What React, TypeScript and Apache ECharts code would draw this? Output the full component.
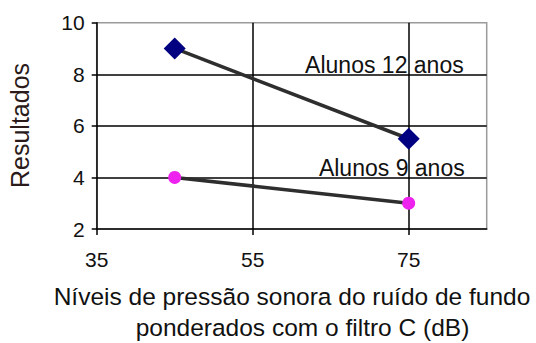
import React, { useEffect, useRef } from "react";
import * as echarts from "echarts";

// Background-noise level (dB, C-weighted) for each test condition
const noiseLevels = [45, 75];
// Results by age group
const results12 = [9, 5.5];
const results9 = [4, 3];
const seriesNames = ["Alunos 12 anos", "Alunos 9 anos"];
const yTitle = "Resultados";
const xTitleLines = [
  "Níveis de pressão sonora do ruído de fundo",
  "ponderados com o filtro C (dB)",
];

const FONT = "'Liberation Sans', Arial, sans-serif";

export default function App() {
  const ref = useRef<HTMLDivElement>(null);

  useEffect(() => {
    if (!ref.current) return;
    const chart = echarts.init(ref.current, null, { renderer: "svg" });

    const pairs = (ys: number[]) => noiseLevels.map((x, i) => [x, ys[i]]);

    chart.setOption({
      animation: false,
      backgroundColor: "#ffffff",
      grid: {
        left: 96.7,
        right: 49.3,
        top: 22.7,
        bottom: 114,
        show: true,
        borderColor: "#9a9a9a",
        borderWidth: 1.5,
        backgroundColor: "transparent",
      },
      xAxis: {
        type: "value",
        min: 35,
        max: 85,
        interval: 20,
        axisLine: { show: true, onZero: false, lineStyle: { color: "#000", width: 1.5 } },
        axisTick: { show: true, length: 6, lineStyle: { color: "#000", width: 1.5 } },
        axisLabel: {
          showMaxLabel: false,
          margin: 20,
          color: "#111",
          fontFamily: FONT,
          fontSize: 21,
        },
        splitLine: {
          show: true,
          showMinLine: false,
          showMaxLine: false,
          lineStyle: { color: "#000", width: 1.5 },
        },
      },
      yAxis: {
        type: "value",
        min: 2,
        max: 10,
        interval: 2,
        axisLine: { show: true, onZero: false, lineStyle: { color: "#000", width: 1.5 } },
        axisTick: { show: true, length: 5, lineStyle: { color: "#000", width: 1.5 } },
        axisLabel: {
          margin: 12,
          color: "#111",
          fontFamily: FONT,
          fontSize: 21,
        },
        splitLine: {
          show: true,
          showMinLine: false,
          showMaxLine: false,
          lineStyle: { color: "#000", width: 1.5 },
        },
      },
      series: [
        {
          name: seriesNames[0],
          type: "line",
          data: pairs(results12),
          symbol: "diamond",
          symbolSize: 22,
          itemStyle: { color: "#000080" },
          lineStyle: { color: "#2e2e2e", width: 3.5 },
          label: {
            show: true,
            formatter: (p: any) => (p.dataIndex === 1 ? seriesNames[0] : ""),
            position: "inside",
            align: "right",
            verticalAlign: "middle",
            offset: [55, -73.5],
            color: "#111",
            fontFamily: FONT,
            fontSize: 23,
          },
          z: 3,
        },
        {
          name: seriesNames[1],
          type: "line",
          data: pairs(results9),
          symbol: "circle",
          symbolSize: 13,
          itemStyle: { color: "#ee22ee" },
          lineStyle: { color: "#2e2e2e", width: 3.5 },
          label: {
            show: true,
            formatter: (p: any) => (p.dataIndex === 1 ? seriesNames[1] : ""),
            position: "inside",
            align: "right",
            verticalAlign: "middle",
            offset: [56, -35],
            color: "#111",
            fontFamily: FONT,
            fontSize: 23,
          },
          z: 3,
        },
      ],
      graphic: [
        {
          type: "text",
          x: 20,
          y: 125.5,
          rotation: Math.PI / 2,
          style: {
            text: yTitle,
            fill: "#2a1a1a",
            font: `25px ${FONT}`,
            align: "center",
            verticalAlign: "middle",
          },
        },
        {
          type: "text",
          x: 292,
          y: 296.5,
          style: {
            text: xTitleLines[0],
            fill: "#111",
            font: `24.5px ${FONT}`,
            align: "center",
            verticalAlign: "middle",
          },
        },
        {
          type: "text",
          x: 302.5,
          y: 327.5,
          style: {
            text: xTitleLines[1],
            fill: "#111",
            font: `24.5px ${FONT}`,
            align: "center",
            verticalAlign: "middle",
          },
        },
      ],
    });

    return () => chart.dispose();
  }, []);

  return (
    <div
      ref={ref}
      style={{ position: "absolute", left: 0, top: 0, width: 536, height: 343 }}
    />
  );
}
